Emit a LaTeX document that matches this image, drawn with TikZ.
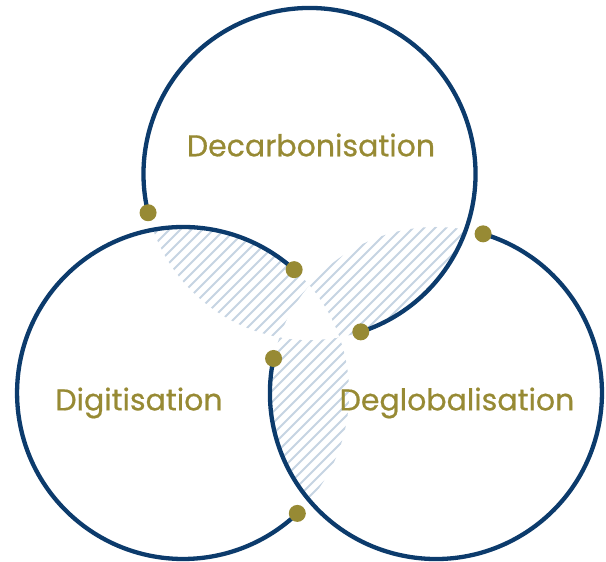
\documentclass[tikz,border=0pt]{standalone}
\usepackage{fontspec}
\newfontfamily\labelfont{Poppins}[UprightFeatures={FakeBold=0.6}]
\usetikzlibrary{calc}
\definecolor{navy}{HTML}{0C3B6C}
\definecolor{olive}{HTML}{978A34}
\definecolor{hatchblue}{HTML}{C6D4E2}
\begin{document}
\begin{tikzpicture}[x=1pt,y=1pt,
  ring/.style={draw=navy,line width=4.3pt},
  knob/.style={fill=olive},
  hatchline/.style={draw=hatchblue,line width=2pt},
  label/.style={text=olive,font=\labelfont\fontsize{30}{36}\selectfont}]
\useasboundingbox (0,0) rectangle (606,562);
\def\rad{166}
\coordinate (C) at (309.5,242);
\coordinate (T) at ($(C)+(90:146)$);
\coordinate (L) at ($(C)+(210:146)$);
\coordinate (R) at ($(C)+(330:146)$);

% hatched pairwise overlaps
\foreach \A/\B in {T/L,T/R,L/R}{
  \begin{scope}
    \clip (\A) circle (\rad);
    \clip (\B) circle (\rad);
    \foreach \c in {-640,-629,...,600}
      \draw[hatchline] (0,\c) -- (650,\c+650);
  \end{scope}
}
% empty triple overlap
\begin{scope}
  \clip (T) circle (\rad);
  \clip (L) circle (\rad);
  \fill[white] (R) circle (\rad);
\end{scope}

% open rings with end points
\foreach \P/\s in {T/0,L/120,R/240}{
  \path (\P) ++(-72+\s:\rad) coordinate (\P a);
  \path (\P) ++(193.5+\s:\rad) coordinate (\P b);
  \draw[ring] (\P a) arc[start angle=-72+\s, end angle=193.5+\s, radius=\rad];
  \fill[knob] (\P a) circle (8.5);
  \fill[knob] (\P b) circle (8.5);
}

\node[label] (dec) at (311,417) {Decarbonisation};
\node[label] (dig) at (139,159) {Digitisation};
\node[label] (deg) at (457,159) {Deglobalisation};
\end{tikzpicture}
\end{document}
